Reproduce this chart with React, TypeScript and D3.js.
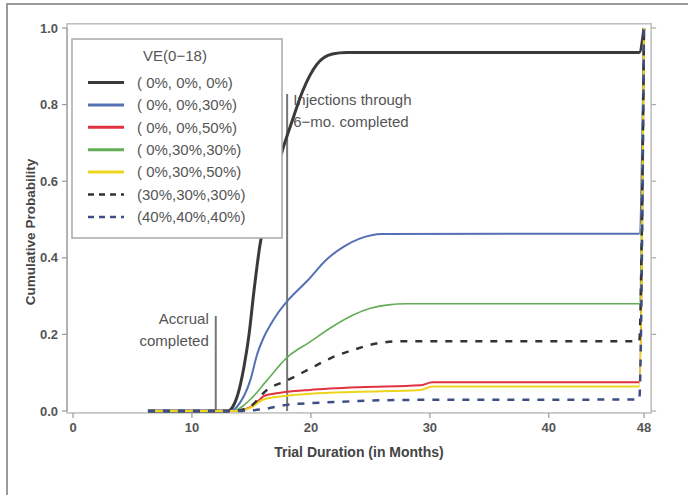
import React from 'react';
import * as d3 from 'd3';

// months / cumulative probability
const legendLabels = [
  '( 0%, 0%, 0%)',
  '( 0%, 0%,30%)',
  '( 0%, 0%,50%)',
  '( 0%,30%,30%)',
  '( 0%,30%,50%)',
  '(30%,30%,30%)',
  '(40%,40%,40%)',
];

const ve000: [number, number][] = [
  [6.3, 0], [13.0, 0], [13.5, 0.015], [14.0, 0.06], [14.4, 0.12], [14.8, 0.2], [15.2, 0.31],
  [15.7, 0.43], [16.2, 0.51], [16.7, 0.575], [17.6, 0.68], [18.4, 0.755], [19.3, 0.835],
  [20.5, 0.905], [21.8, 0.932], [23, 0.936], [47.6, 0.936], [48, 1.0],
];
const ve0030: [number, number][] = [
  [6.3, 0], [13.2, 0], [14, 0.02], [14.9, 0.08], [15.5, 0.15], [16.0, 0.19], [16.6, 0.225],
  [17.1, 0.25], [18.1, 0.29], [19.7, 0.34], [21.3, 0.395], [22.8, 0.43], [24.1, 0.45],
  [26, 0.462], [47.6, 0.463], [48, 1.0],
];
const ve0050: [number, number][] = [
  [6.3, 0], [13.8, 0], [14.9, 0.01], [15.5, 0.024], [16.1, 0.04], [18, 0.05], [19.9, 0.055],
  [24.1, 0.062], [29.2, 0.067], [30.2, 0.075], [47.6, 0.075], [48, 1.0],
];
const ve03030: [number, number][] = [
  [6.3, 0], [13.4, 0], [14.9, 0.03], [16.3, 0.08], [18, 0.14], [19.9, 0.18], [21.8, 0.22],
  [23.5, 0.25], [25, 0.268], [26.5, 0.277], [28, 0.28], [47.6, 0.28], [48, 1.0],
];
const ve03050: [number, number][] = [
  [6.3, 0], [13.8, 0], [15, 0.01], [16, 0.03], [18, 0.04], [20, 0.045], [24, 0.05],
  [29.2, 0.055], [30.2, 0.064], [47.6, 0.064], [48, 1.0],
];
const ve303030: [number, number][] = [
  [6.3, 0], [13.5, 0], [14.9, 0.012], [16.3, 0.055], [18, 0.08], [19.9, 0.11], [21.8, 0.14],
  [23.8, 0.162], [25.5, 0.176], [27.4, 0.182], [47.6, 0.182], [48, 1.0],
];
const ve404040: [number, number][] = [
  [6.3, 0], [13.8, 0], [16, 0.005], [18, 0.016], [21, 0.022], [24, 0.026], [28, 0.029],
  [47.6, 0.03], [48, 1.0],
];

const xTicks = [0, 10, 20, 30, 40, 48];
const yTicks = [0, 0.2, 0.4, 0.6, 0.8, 1.0];

const accrualMonth = 12;
const injectionMonth = 18;

const series = [
  { data: ve000, color: '#3a3a3a', width: 3, dash: null },
  { data: ve0030, color: '#5470b4', width: 2, dash: null },
  { data: ve0050, color: '#e2323f', width: 2, dash: null },
  { data: ve03030, color: '#62ad55', width: 1.6, dash: null },
  { data: ve03050, color: '#ecd51c', width: 2, dash: null },
  { data: ve303030, color: '#333333', width: 2.5, dash: '7,8' },
  { data: ve404040, color: '#3f4d85', width: 2.5, dash: '7,8' },
];

const W = 688;
const H = 495;
const font = '"Liberation Sans", Arial, sans-serif';

export default function App() {
  const x = d3.scaleLinear().domain([0, 48]).range([73, 644]);
  const y = d3.scaleLinear().domain([0, 1]).range([411, 28]);

  const line = d3.line<[number, number]>()
    .x(d => x(d[0]))
    .y(d => y(d[1]))
    .curve(d3.curveMonotoneX);

  const boxL = x(-0.5), boxR = x(48.6), boxT = y(1.011), boxB = y(-0.005);

  const legX = 72, legY = 39, legW = 210, legH = 199;

  return (
    <svg width={W} height={H} style={{ position: 'absolute', left: 0, top: 0 }} fontFamily={font}>
      <rect width={W} height={H} fill="#fff" />
      {/* outer frame */}
      <path d={`M7,${H} V4 H${W}`} fill="none" stroke="#9a9a9a" strokeWidth={2} />

      {/* plot box */}
      <rect x={boxL} y={boxT} width={boxR - boxL} height={boxB - boxT} fill="none" stroke="#bdbdbd" strokeWidth={1.5} />

      {/* left axis */}
      <line x1={boxL} x2={boxL} y1={y(0)} y2={y(1)} stroke="#aaa" strokeWidth={1.5} />
      {yTicks.map(t => (
        <g key={'yl' + t}>
          <line x1={boxL - 5} x2={boxL} y1={y(t)} y2={y(t)} stroke="#999" strokeWidth={1.2} />
          <text x={boxL - 9} y={y(t)} dy="0.35em" textAnchor="end" fontSize={13} fontWeight="bold" fill="#555">
            {t.toFixed(1)}
          </text>
          <line x1={boxR} x2={boxR + 5} y1={y(t)} y2={y(t)} stroke="#aaa" strokeWidth={1.2} />
        </g>
      ))}

      {/* bottom axis */}
      {xTicks.map(t => (
        <g key={'xt' + t}>
          <line x1={x(t)} x2={x(t)} y1={boxB} y2={boxB + 5} stroke="#999" strokeWidth={1.2} />
          <text x={x(t)} y={boxB + 19} textAnchor="middle" fontSize={13} fontWeight="bold" fill="#555">
            {t}
          </text>
        </g>
      ))}

      <text x={359} y={457} textAnchor="middle" fontSize={14} fontWeight="bold" fill="#444">
        Trial Duration (in Months)
      </text>
      <text transform={`translate(35,232) rotate(-90)`} textAnchor="middle" fontSize={13.5} fontWeight="bold" fill="#444">
        Cumulative Probability
      </text>

      {/* milestone markers */}
      <line x1={x(accrualMonth)} x2={x(accrualMonth)} y1={y(0)} y2={316} stroke="#777" strokeWidth={2} />
      <text x={x(accrualMonth) - 7} y={324} textAnchor="end" fontSize={15} fill="#555">Accrual</text>
      <text x={x(accrualMonth) - 7} y={346} textAnchor="end" fontSize={15} fill="#555">completed</text>

      <line x1={x(injectionMonth)} x2={x(injectionMonth)} y1={y(0)} y2={94} stroke="#777" strokeWidth={2} />
      <text x={x(injectionMonth) + 6} y={105} fontSize={15} fill="#555">Injections through</text>
      <text x={x(injectionMonth) + 6} y={127} fontSize={15} fill="#555">6−mo. completed</text>

      {/* curves */}
      {series.map((s, i) => (
        <path key={'s' + i} d={line(s.data) || ''} fill="none" stroke={s.color}
          strokeWidth={s.width} strokeDasharray={s.dash || undefined} />
      ))}

      {/* legend */}
      <rect x={legX} y={legY} width={legW} height={legH} fill="#fff" stroke="#a8a8a8" strokeWidth={1.5} />
      <text x={175} y={61} textAnchor="middle" fontSize={15} fill="#555">VE(0−18)</text>
      {series.map((s, i) => {
        const ly = 82.5 + i * 22.4;
        return (
          <g key={'lg' + i}>
            <line x1={88} x2={124} y1={ly} y2={ly} stroke={s.color} strokeWidth={s.dash ? 2.5 : 3}
              strokeDasharray={s.dash ? '6,5' : undefined} />
            <text x={137} y={ly} dy="0.35em" fontSize={15} fill="#555">{legendLabels[i]}</text>
          </g>
        );
      })}
    </svg>
  );
}
